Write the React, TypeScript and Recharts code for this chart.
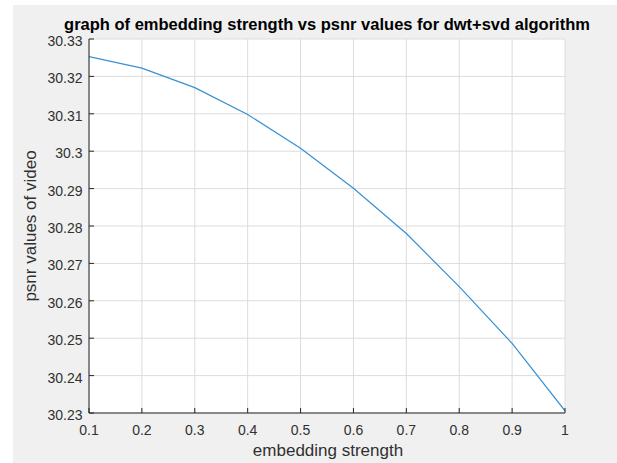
import React from 'react';
import { LineChart, Line, XAxis, YAxis, CartesianGrid } from 'recharts';

const strengths = [0.1, 0.2, 0.3, 0.4, 0.5, 0.6, 0.7, 0.8, 0.9, 1.0];
const psnrValues = [30.3253, 30.3222, 30.317, 30.3098, 30.3008, 30.2901, 30.278, 30.2638, 30.2486, 30.2306];
const xTicks = [0.1, 0.2, 0.3, 0.4, 0.5, 0.6, 0.7, 0.8, 0.9, 1];
const yTicks = [30.23, 30.24, 30.25, 30.26, 30.27, 30.28, 30.29, 30.3, 30.31, 30.32, 30.33];

const titleText = 'graph of embedding strength vs psnr values for dwt+svd algorithm';
const xLabelText = 'embedding strength';
const yLabelText = 'psnr values of video';

const data = strengths.map((s, i) => ({ s, p: psnrValues[i] }));

const FONT = '"Liberation Sans", Arial, Helvetica, sans-serif';
const AXIS = '#262626';
const TICKTXT = '#303030';
const TL = 5;

const fmtX = (v: number) => String(Number(v.toFixed(1)));
const fmtY = (v: number) => String(Number(v.toFixed(2)));

const BottomTick = (props: any) => {
  const { x, y, payload } = props;
  return (
    <g>
      <line x1={x} y1={y} x2={x} y2={y - TL} stroke={AXIS} strokeWidth={1} />
      <text x={x} y={y + 22} textAnchor="middle" fontFamily={FONT} fontSize={14} fill={TICKTXT}>
        {fmtX(payload.value)}
      </text>
    </g>
  );
};

const TopTick = (props: any) => {
  const { x, y } = props;
  return <line x1={x} y1={y} x2={x} y2={y + TL} stroke={AXIS} strokeWidth={1} />;
};

const LeftTick = (props: any) => {
  const { x, y, payload } = props;
  return (
    <g>
      <line x1={x} y1={y} x2={x + TL} y2={y} stroke={AXIS} strokeWidth={1} />
      <text x={x - 6.5} y={y + 7} textAnchor="end" fontFamily={FONT} fontSize={14} fill={TICKTXT}>
        {fmtY(payload.value)}
      </text>
    </g>
  );
};

const RightTick = (props: any) => {
  const { x, y } = props;
  return <line x1={x} y1={y} x2={x - TL} y2={y} stroke={AXIS} strokeWidth={1} />;
};

export default function App() {
  return (
    <div style={{ position: 'absolute', left: 0, top: 0, width: 617, height: 463, background: '#ffffff', overflow: 'hidden' }}>
      <div style={{ position: 'absolute', left: 13, top: 5, right: 0, bottom: 0, background: '#f0f0f0' }} />
      <div style={{ position: 'absolute', left: 0, top: 0 }}>
        <LineChart width={617} height={463} data={data} margin={{ top: 39, right: 52, bottom: 20, left: 29 }}>
          <CartesianGrid xAxisId="b" yAxisId="l" stroke="#dcdcdc" fill="#ffffff" fillOpacity={1} />
          <XAxis
            xAxisId="b"
            dataKey="s"
            type="number"
            domain={[0.1, 1]}
            ticks={xTicks}
            interval={0}
            height={30}
            tickSize={0}
            tickMargin={0}
            tick={<BottomTick />}
            axisLine={{ stroke: AXIS }}
            tickLine={false}
            allowDataOverflow
          />
          <XAxis
            xAxisId="t"
            orientation="top"
            dataKey="s"
            type="number"
            domain={[0.1, 1]}
            ticks={xTicks}
            interval={0}
            height={0}
            tickSize={0}
            tickMargin={0}
            tick={<TopTick />}
            axisLine={{ stroke: AXIS }}
            tickLine={false}
            allowDataOverflow
          />
          <YAxis
            yAxisId="l"
            type="number"
            domain={[30.23, 30.33]}
            ticks={yTicks}
            interval={0}
            width={60}
            tickSize={0}
            tickMargin={0}
            tick={<LeftTick />}
            axisLine={{ stroke: AXIS }}
            tickLine={false}
            allowDataOverflow
          />
          <YAxis
            yAxisId="r"
            orientation="right"
            type="number"
            domain={[30.23, 30.33]}
            ticks={yTicks}
            interval={0}
            width={0}
            tickSize={0}
            tickMargin={0}
            tick={<RightTick />}
            axisLine={{ stroke: AXIS }}
            tickLine={false}
            allowDataOverflow
          />
          <Line
            xAxisId="b"
            yAxisId="l"
            type="linear"
            dataKey="p"
            stroke="#3790d3"
            strokeWidth={1.2}
            dot={false}
            activeDot={false}
            isAnimationActive={false}
          />
        </LineChart>
      </div>
      <svg width={617} height={463} style={{ position: 'absolute', left: 0, top: 0, pointerEvents: 'none' }}>
        <text x={327} y={30} textAnchor="middle" fontFamily={FONT} fontSize={16.5} fontWeight="bold" fill="#000000">
          {titleText}
        </text>
        <text x={328} y={456} textAnchor="middle" fontFamily={FONT} fontSize={17} fill={TICKTXT}>
          {xLabelText}
        </text>
        <text x={36} y={226} textAnchor="middle" fontFamily={FONT} fontSize={17} fill={TICKTXT} transform="rotate(-90, 36, 226)">
          {yLabelText}
        </text>
      </svg>
    </div>
  );
}
